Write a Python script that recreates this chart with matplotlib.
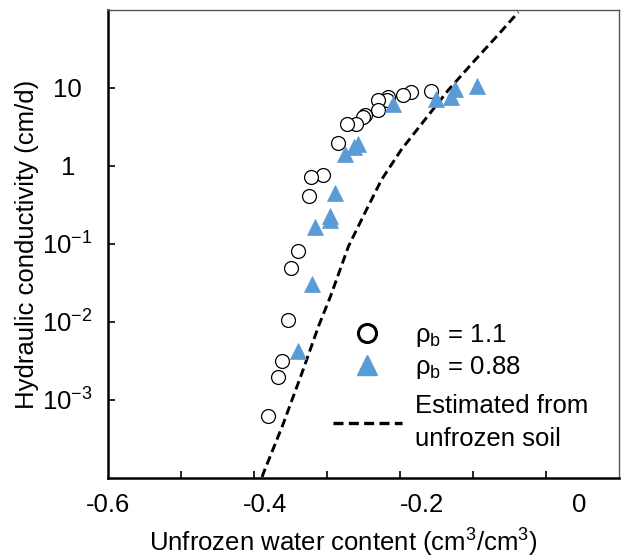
import numpy as np
import matplotlib
matplotlib.use('Agg')
import matplotlib.pyplot as plt
from matplotlib.lines import Line2D
from matplotlib.ticker import NullLocator

plt.rcParams['font.family'] = ['Liberation Sans', 'DejaVu Sans']
plt.rcParams['mathtext.fontset'] = 'custom'
plt.rcParams['mathtext.rm'] = 'Liberation Sans'
plt.rcParams['mathtext.it'] = 'Liberation Sans:italic'
plt.rcParams['mathtext.default'] = 'regular'

# rho_b = 1.1 (open circles)
theta_11 = [-0.189, -0.214, -0.225, -0.244, -0.245, -0.256, -0.257, -0.273, -0.276,
            -0.284, -0.296, -0.307, -0.327, -0.342, -0.344, -0.358, -0.367, -0.371,
            -0.378, -0.384, -0.397]
k_11 = [9.2, 8.8, 8.1, 7.6, 7.0, 7.0, 5.2, 4.5, 4.3,
        3.5, 3.5, 2.0, 0.77, 0.73, 0.416, 0.081, 0.049, 0.0106,
        0.00316, 0.00197, 0.000627]

# rho_b = 0.88 (blue triangles)
theta_088 = [-0.131, -0.159, -0.164, -0.183, -0.237, -0.282, -0.287, -0.299,
             -0.311, -0.318, -0.318, -0.336, -0.341, -0.358]
k_088 = [10.6, 9.6, 7.7, 7.2, 6.2, 1.92, 1.75, 1.42,
         0.45, 0.231, 0.205, 0.164, 0.0303, 0.0042]

# estimated from unfrozen soil (dashed)
theta_est = [-0.404, -0.401, -0.378, -0.353, -0.332, -0.317, -0.294, -0.273,
             -0.252, -0.227, -0.197, -0.167, -0.133, -0.104, -0.078]
k_est = [1.03e-4, 1.24e-4, 4.67e-4, 2.25e-3, 8.9e-3, 0.0212, 0.0935, 0.252,
         0.667, 1.61, 3.9, 9.4, 22.8, 47.6, 93.8]

x_label_pos = [-0.6, -0.4, -0.2, 0]
x_labels = ['-0.6', '-0.4', '-0.2', '0']
y_ticks = [1e-3, 1e-2, 1e-1, 1, 10]
y_labels = ['10$^{-3}$', '10$^{-2}$', '10$^{-1}$', '1', '10']

blue = '#5b9bd5'
fs = 18.5

fig = plt.figure(figsize=(6.22, 5.58), dpi=100)
ax = fig.add_axes([0.1736, 0.1434, 0.8214, 0.8387])

ax.plot(theta_est, k_est, color='black', lw=2.1, linestyle=(0, (3.0, 1.6)))
ax.plot(theta_11, k_11, 'o', ms=10, mfc='white', mec='black', mew=0.9, linestyle='none')
ax.plot(theta_088, k_088, '^', ms=11, mfc=blue, mec=blue, mew=0.5, linestyle='none')

ax.set_yscale('log')
ax.set_ylim(1e-4, 1e2)
ax.set_xlim(-0.6, 0.05)

# tick marks (no labels) and labels (no marks)
ax.set_xticks(np.linspace(-0.6, 0.05, 8)[1:-1])
ax.set_xticklabels([])
ax.set_xticks(x_label_pos, minor=True)
ax.set_xticklabels(x_labels, minor=True, fontsize=fs)
ax.tick_params(axis='x', which='major', direction='in', length=5, width=1.2)
ax.tick_params(axis='x', which='minor', length=0, pad=11)

ax.set_yticks(y_ticks)
ax.set_yticklabels(y_labels, fontsize=fs)
ax.yaxis.set_minor_locator(NullLocator())
ax.tick_params(axis='y', which='major', direction='in', length=5, width=1.2, pad=29)
for t in ax.get_yticklabels():
    t.set_horizontalalignment('center')

for s in ['left', 'bottom']:
    ax.spines[s].set_linewidth(1.8)
    ax.spines[s].set_color('black')
for s in ['top', 'right']:
    ax.spines[s].set_linewidth(1.0)
    ax.spines[s].set_color('#555555')

ax.set_xlabel('Unfrozen water content (cm$^{3}$/cm$^{3}$)', fontsize=fs)
ax.set_ylabel('Hydraulic conductivity (cm/d)', fontsize=fs)
ax.xaxis.set_label_coords(0.46, -0.105)
ax.yaxis.set_label_coords(-0.135, 0.5)

# legend: markers in one block, dashed line in another (bigger gap in the reference)
marker_handles = [
    Line2D([], [], marker='o', ms=13, mfc='white', mec='black', mew=2.2, linestyle='none'),
    Line2D([], [], marker='^', ms=15, mfc=blue, mec=blue, linestyle='none'),
]
leg1 = ax.legend(marker_handles, ['ρ$_{b}$ = 1.1', 'ρ$_{b}$ = 0.88'],
                 loc='upper left', bbox_to_anchor=(0.44, 0.333),
                 frameon=False, fontsize=fs, handlelength=2.7, handletextpad=0.5,
                 labelspacing=0.2, borderpad=0, borderaxespad=0)
ax.add_artist(leg1)

line_handle = [Line2D([], [], color='black', lw=2.4, linestyle=(0, (3.0, 1.6)))]
leg2 = ax.legend(line_handle, ['Estimated from\nunfrozen soil'],
                 loc='upper left', bbox_to_anchor=(0.44, 0.1795),
                 frameon=False, fontsize=fs, handlelength=2.7, handletextpad=0.5,
                 borderpad=0, borderaxespad=0)
leg2.get_texts()[0].set_linespacing(1.5)

fig.savefig('out.png', dpi=100)
